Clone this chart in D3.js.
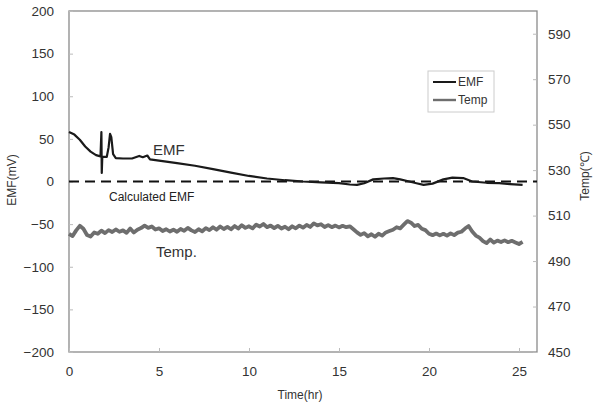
<!DOCTYPE html>
<html><head><meta charset="utf-8">
<script src="https://cdn.jsdelivr.net/npm/d3@7"></script>
<style>body{margin:0;background:#fff;} svg{display:block;font-family:"Liberation Sans",Arial,sans-serif;}</style>
</head><body>
<script>
// ---- data ----
const emfTicks = [200,150,100,50,0,-50,-100,-150,-200];
const tempTicks = [450,470,490,510,530,550,570,590];
const timeTicks = [0,5,10,15,20,25];
const emfTime = [0,0.3,0.6,0.9,1.2,1.5,1.75,1.8,1.82,1.85,2.1,2.2,2.28,2.35,2.45,2.6,3.0,3.5,3.7,3.9,4.1,4.35,4.5,5,6,7,8,9,10,11,12,13,14,15,15.6,16,16.4,16.9,17.5,18,18.4,18.9,19.3,19.7,20.2,20.8,21.3,21.9,22.4,23.2,23.9,24.5,25.2];
const emfValue = [58,55,49,41,35,31,29.5,58,10,29,29,40,56,52,32,27.5,27,27,28.5,30,28.5,30.5,26,24.5,21.5,18.5,14.5,10.5,6.5,3.5,1.5,0,-1,-2,-3.5,-4,-2,2.5,3.5,4,2.5,0,-2,-4,-2.5,2.5,4.5,4,0,-1.5,-2,-3,-4];
const tempStep = 0.2; // hours between temperature samples
const tempValue = [502.0,501.0,503.5,505.5,504.2,501.5,500.8,502.6,502.0,503.4,
502.3,503.6,502.8,503.9,502.9,503.5,502.4,504.3,502.6,503.8,
504.5,505.6,504.6,505.2,503.9,504.4,503.2,504.0,503.0,503.8,
502.9,504.1,503.3,504.6,503.5,502.8,504.0,503.1,504.5,503.6,
504.9,503.8,505.2,504.1,505.0,504.0,505.4,504.3,505.8,504.6,
505.3,504.4,506.0,505.2,506.3,504.9,505.6,504.5,505.5,504.3,
505.1,504.0,505.3,504.4,505.6,504.7,505.9,505.0,506.6,505.7,
506.2,505.0,505.8,504.9,505.6,504.8,505.5,504.9,505.3,504.0,
502.6,501.5,502.3,500.9,501.8,500.7,502.0,501.2,502.6,503.2,
503.8,504.9,504.4,506.0,507.6,506.9,505.4,505.9,504.2,503.6,
502.0,501.4,502.1,501.3,502.0,501.2,502.2,501.4,502.5,502.9,
504.3,505.4,503.0,501.2,500.3,498.8,497.9,499.5,498.1,499.0,
498.4,499.1,498.3,498.9,498.2,497.5,498.4];
const calculatedEMF = 0;

// ---- chart ----
const W = 594, H = 410;
const m = {left:69, right:57, top:11, bottom:58};
const svg = d3.select("body").append("svg").attr("width",W).attr("height",H);
const x = d3.scaleLinear().domain([0,26]).range([m.left, W-m.right]);
const y = d3.scaleLinear().domain([-200,200]).range([H-m.bottom, m.top]);
const y2 = d3.scaleLinear().domain([450,600]).range([H-m.bottom, m.top]);
const gray = "#8a8a8a", txt = "#333";

// frame
svg.append("rect").attr("x",x(0)).attr("y",y(200)).attr("width",x(26)-x(0)).attr("height",y(-200)-y(200))
  .attr("fill","none").attr("stroke",gray).attr("stroke-width",1.3);

// axes
const ax = svg.append("g").attr("transform",`translate(0,${y(-200)})`)
  .call(d3.axisBottom(x).tickValues(timeTicks).tickSizeInner(-4).tickSizeOuter(0).tickPadding(14));
const ayl = svg.append("g").attr("transform",`translate(${x(0)},0)`)
  .call(d3.axisLeft(y).tickValues(emfTicks).tickSizeInner(-4).tickSizeOuter(0).tickPadding(15)
    .tickFormat(d => d < 0 ? "\u2212" + Math.abs(d) : d));
const ayr = svg.append("g").attr("transform",`translate(${x(26)},0)`)
  .call(d3.axisRight(y2).tickValues(tempTicks).tickSizeInner(-4).tickSizeOuter(0).tickPadding(11));
[ax,ayl,ayr].forEach(g => {
  g.select(".domain").remove();
  g.selectAll(".tick line").attr("stroke","#bbb");
  g.selectAll(".tick text").attr("fill",txt).style("font-size","13.5px").style("font-family","'Liberation Sans',Arial,sans-serif");
});

// calculated EMF dashed line
svg.append("line").attr("x1",x(0)).attr("x2",x(26)).attr("y1",y(calculatedEMF)).attr("y2",y(calculatedEMF))
  .attr("stroke","#111").attr("stroke-width",2.2).attr("stroke-dasharray","10,6");

// temperature
const tempData = tempValue.map((v,i)=>({t:i*tempStep, v}));
svg.append("path").datum(tempData)
  .attr("d", d3.line().x(d=>x(d.t)).y(d=>y2(d.v)))
  .attr("fill","none").attr("stroke","#6e6e6e").attr("stroke-width",3.8).attr("stroke-linejoin","round");

// EMF
const emfData = emfTime.map((t,i)=>({t, v:emfValue[i]}));
svg.append("path").datum(emfData)
  .attr("d", d3.line().x(d=>x(d.t)).y(d=>y(d.v)))
  .attr("fill","none").attr("stroke","#1a1a1a").attr("stroke-width",2.2).attr("stroke-linejoin","round");

// annotations
svg.append("text").attr("x",153).attr("y",155).text("EMF").attr("fill",txt).style("font-size","15px");
svg.append("text").attr("x",109).attr("y",201).text("Calculated EMF").attr("fill","#222").style("font-size","12px");
svg.append("text").attr("x",156).attr("y",257).text("Temp.").attr("fill",txt).style("font-size","15px");

// axis titles
svg.append("text").attr("x",300).attr("y",399).attr("text-anchor","middle").text("Time(hr)").attr("fill",txt).style("font-size","12px");
svg.append("text").attr("transform","translate(16,180) rotate(-90)").attr("text-anchor","middle").text("EMF(mV)").attr("fill",txt).style("font-size","12px");
svg.append("text").attr("transform","translate(589,176) rotate(-90)").attr("text-anchor","middle").text("Temp(\u2103)").attr("fill",txt).style("font-size","12px");

// legend
const lg = svg.append("g");
lg.append("rect").attr("x",428).attr("y",71).attr("width",66).attr("height",41).attr("fill","#fff").attr("stroke","#ccc");
lg.append("line").attr("x1",433).attr("x2",456).attr("y1",82).attr("y2",82).attr("stroke","#1a1a1a").attr("stroke-width",2);
lg.append("line").attr("x1",433).attr("x2",456).attr("y1",100).attr("y2",100).attr("stroke","#6e6e6e").attr("stroke-width",2.4);
lg.append("text").attr("x",458).attr("y",86).text("EMF").attr("fill",txt).style("font-size","12px");
lg.append("text").attr("x",458).attr("y",104).text("Temp").attr("fill",txt).style("font-size","12px");
</script>
</body></html>
